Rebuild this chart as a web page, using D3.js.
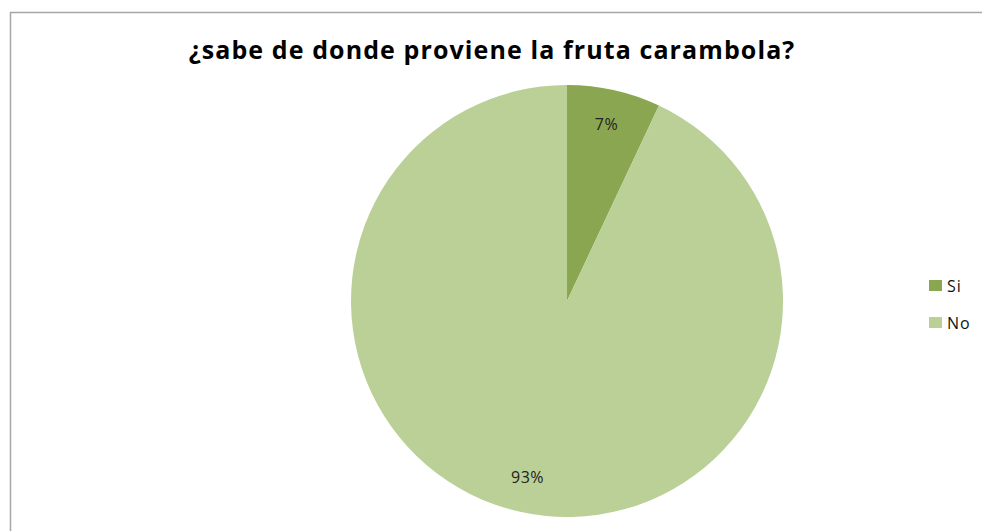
<!DOCTYPE html>
<html>
<head>
<meta charset="utf-8">
<script src="https://cdn.jsdelivr.net/npm/d3@7"></script>
<style>
  body { margin: 0; background: #fff; }
  svg { display: block; }
</style>
</head>
<body>
<svg width="982" height="531"></svg>
<script>
var categories = ["Si", "No"];
var values = [7, 93];
var colors = ["#8aa650", "#bad096"];
var title = "¿sabe de donde proviene la fruta carambola?";

var svg = d3.select("svg"),
  width = +svg.attr("width"),
  height = +svg.attr("height");

// chart frame
svg.append("rect")
  .attr("x", 10.5).attr("y", 12.5)
  .attr("width", width).attr("height", height)
  .attr("fill", "#fff")
  .attr("stroke", "#a6a6a6")
  .attr("stroke-width", 1.5);

svg.append("text")
  .attr("x", 492).attr("y", 59)
  .attr("text-anchor", "middle")
  .attr("font-family", "Open Sans, sans-serif")
  .attr("font-weight", "bold")
  .attr("font-size", 25)
  .attr("letter-spacing", 1.1)
  .attr("fill", "#000")
  .text(title);

var cx = 567, cy = 301, r = 216;
var data = categories.map(function(c, i) { return {name: c, value: values[i], color: colors[i]}; });

var pie = d3.pie().sort(null).value(function(d) { return d.value; });
var arc = d3.arc().innerRadius(0).outerRadius(r);
var labelArc = d3.arc().innerRadius(362).outerRadius(0);

var g = svg.append("g").attr("transform", "translate(" + cx + "," + cy + ")");
var arcs = pie(data);

g.selectAll("path")
  .data(arcs)
  .enter().append("path")
  .attr("d", arc)
  .attr("fill", function(d) { return d.data.color; });

var total = d3.sum(values);
g.selectAll(".lbl")
  .data(arcs)
  .enter().append("text")
  .attr("class", "lbl")
  .attr("transform", function(d) { return "translate(" + labelArc.centroid(d) + ")"; })
  .attr("text-anchor", "middle")
  .attr("dy", "0.35em")
  .attr("font-family", "Open Sans, sans-serif")
  .attr("font-size", 16)
  .attr("letter-spacing", 0.5)
  .attr("fill", "#222")
  .text(function(d) { return Math.round(d.data.value / total * 100) + "%"; });

var legend = svg.append("g").selectAll("g")
  .data(data)
  .enter().append("g")
  .attr("transform", function(d, i) { return "translate(929," + (280 + i * 37) + ")"; });

legend.append("rect")
  .attr("width", 13).attr("height", 11)
  .attr("fill", function(d) { return d.color; });

legend.append("text")
  .attr("x", 18).attr("y", 12)
  .attr("font-family", "Open Sans, sans-serif")
  .attr("font-size", 16)
  .attr("letter-spacing", 1)
  .attr("fill", "#111")
  .text(function(d) { return d.name; });
</script>
</body>
</html>
